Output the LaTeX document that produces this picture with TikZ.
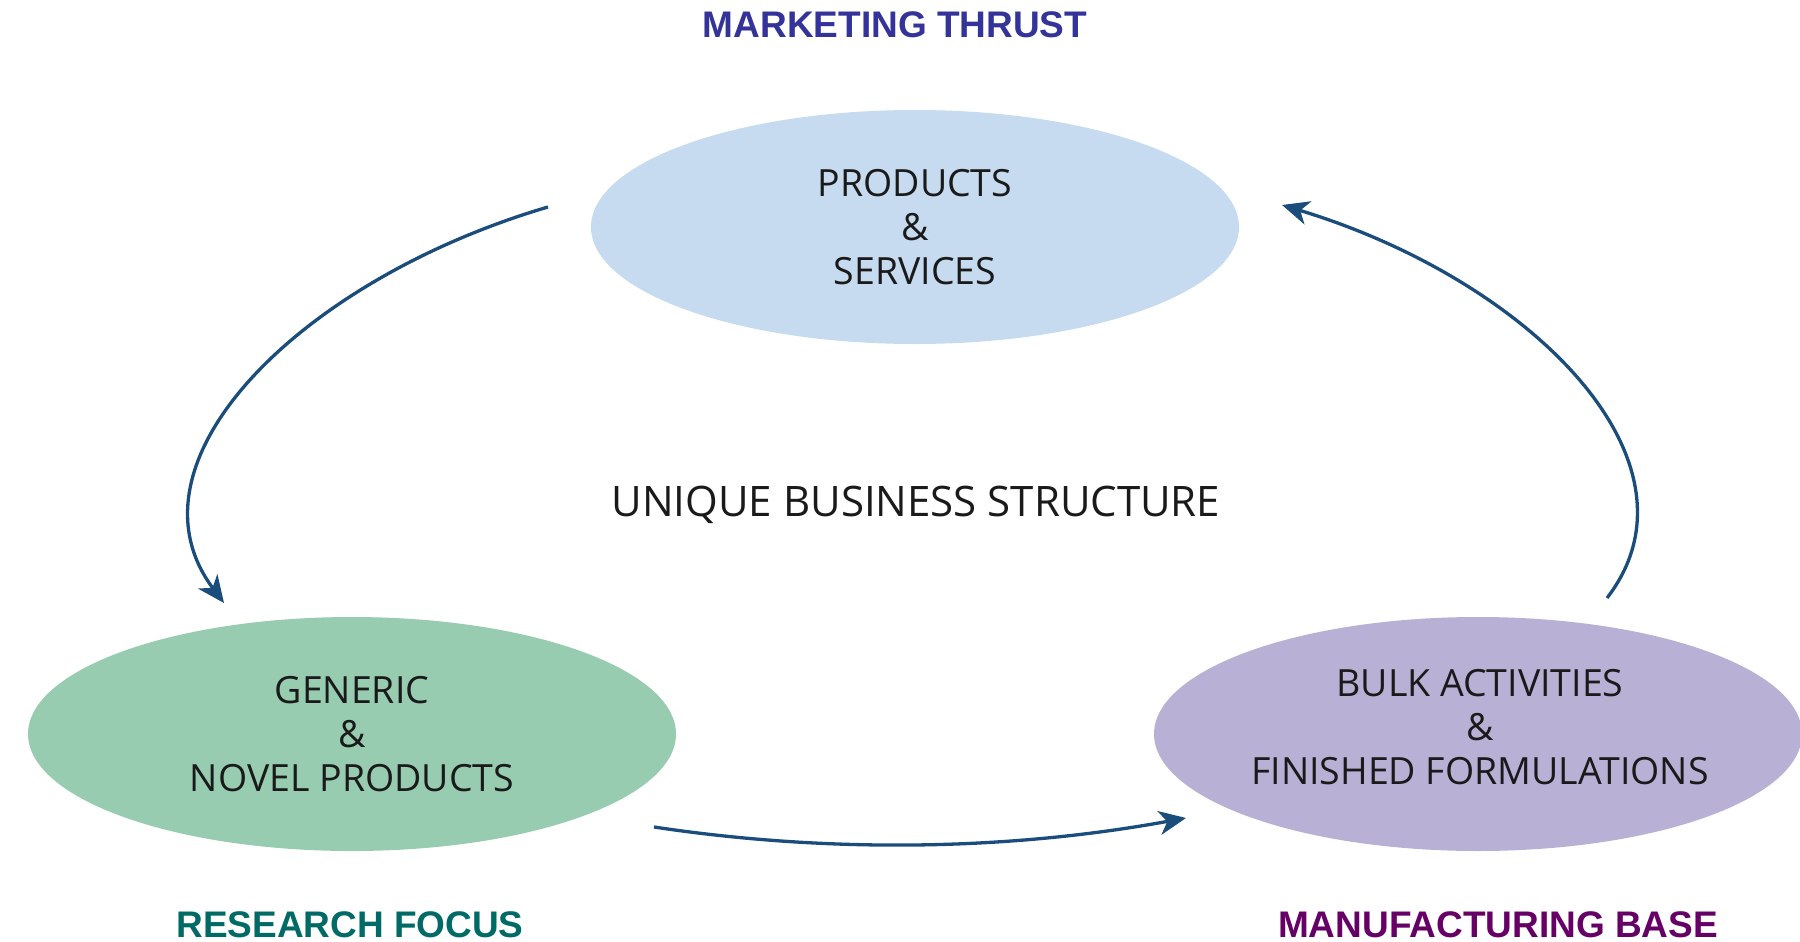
\documentclass[tikz,border=0pt]{standalone}
\usepackage{fontspec}
\setmainfont{Open Sans}
\newfontfamily\headfont{Liberation Sans}
\usetikzlibrary{shapes.geometric,arrows.meta}
\definecolor{topfill}{HTML}{C6DBEF}
\definecolor{leftfill}{HTML}{97CCB1}
\definecolor{rightfill}{HTML}{B9B0D6}
\definecolor{arrowcol}{HTML}{1A4C7C}
\definecolor{mktcol}{HTML}{333399}
\definecolor{rescol}{HTML}{006B66}
\definecolor{mancol}{HTML}{660066}
\definecolor{txtcol}{HTML}{1A1A1A}
\tikzset{
  bubble/.style={ellipse, inner sep=0pt, minimum width=648pt, minimum height=234pt, align=center,
    text=txtcol, font=\fontsize{37.5}{44}\selectfont},
  heading/.style={font=\headfont\bfseries\fontsize{37}{44}\selectfont, inner sep=0pt},
  flow/.style={arrowcol, line width=3.3pt, -{Stealth[length=27pt,width=24pt,inset=8pt]}}
}
\begin{document}
\begin{tikzpicture}[x=1pt,y=-1pt]
\useasboundingbox[fill=white] (0,0) rectangle (1800,942);
\node[heading, text=mktcol] (mkt) at (895,25) {MARKETING THRUST};
\node[heading, text=rescol] (res) at (350,925) {RESEARCH FOCUS};
\node[heading, text=mancol] (man) at (1498,925) {MANUFACTURING BASE};

\node[bubble, fill=topfill] (top) at (915,227) {PRODUCTS\\\&\\SERVICES};
\node[bubble, fill=leftfill] (left) at (352,734) {GENERIC\\\&\\NOVEL PRODUCTS};
\node[bubble, fill=rightfill] (right) at (1478,734) {};
\node[text=txtcol, font=\fontsize{37.5}{44}\selectfont, align=center, inner sep=0pt] (rtext) at (1480,727) {BULK ACTIVITIES\\\&\\FINISHED FORMULATIONS};

\node[text=txtcol, font=\fontsize{42}{44}\selectfont, inner sep=0pt] (center) at (916,505) {UNIQUE BUSINESS STRUCTURE};

\coordinate (a1s) at (548,207);
\coordinate (a1e) at (224,603);
\coordinate (a2s) at (1607,598);
\coordinate (a2e) at (1282,205);
\coordinate (a3s) at (654,827);
\coordinate (a3e) at (1186,818);

\draw[flow] (a1s) .. controls (300,280) and (118,462) .. (a1e);
\draw[flow] (a2s) .. controls (1712,462) and (1530,280) .. (a2e);
\draw[flow] (a3s) .. controls (820,852) and (1000,852) .. (a3e);
\end{tikzpicture}
\end{document}
